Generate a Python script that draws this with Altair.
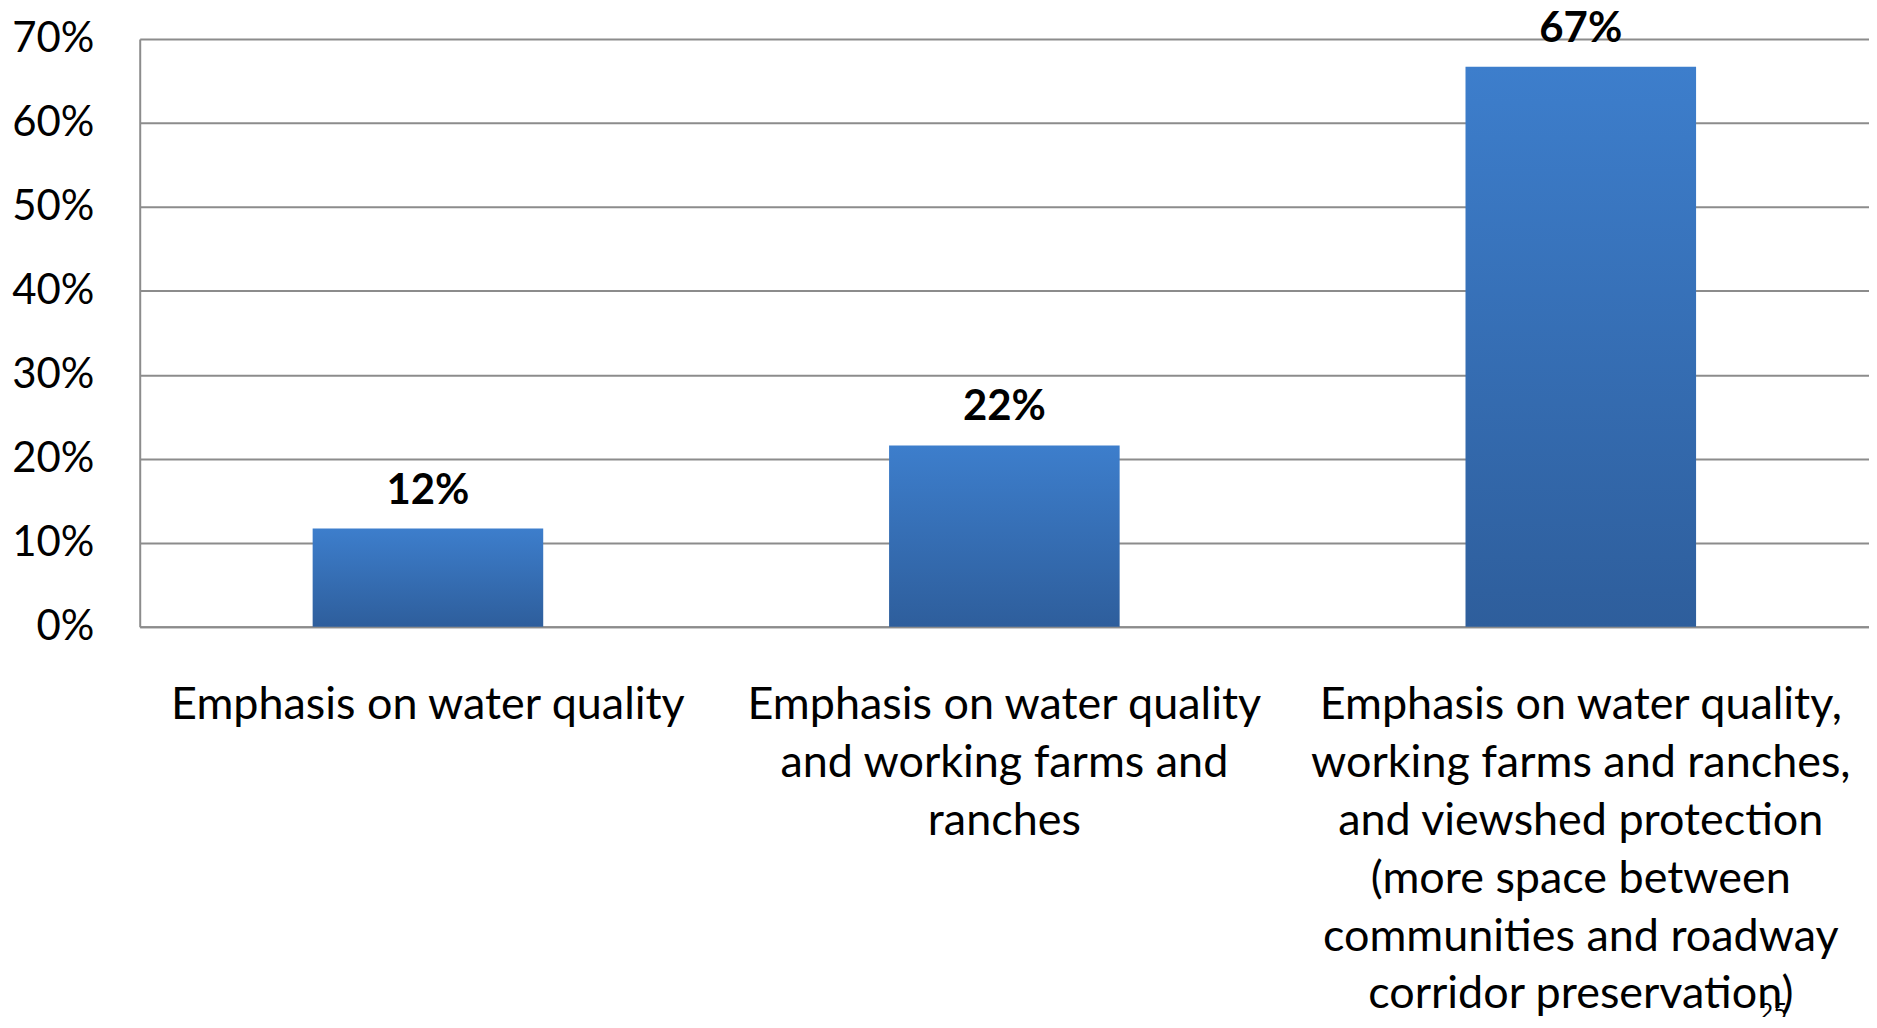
import altair as alt
import pandas as pd

categories = [
    "Emphasis on water quality",
    "Emphasis on water quality\nand working farms and\nranches",
    "Emphasis on water quality,\nworking farms and ranches,\nand viewshed protection\n(more space between\ncommunities and roadway\ncorridor preservation)",
]
shares = [0.117, 0.216, 0.667]
y_ticks = [0, 0.1, 0.2, 0.3, 0.4, 0.5, 0.6, 0.7]
page_number = ["25"]

df = pd.DataFrame({"category": categories, "share": shares})

FONT = "Lato"

x_enc = alt.X(
    "category:N",
    sort=None,
    title=None,
    scale=alt.Scale(paddingInner=0.6, paddingOuter=0.3),
    axis=alt.Axis(
        labelAngle=0,
        labelExpr="split(datum.label, '\\n')",
        labelFont=FONT,
        labelFontSize=45,
        labelLineHeight=58,
        labelColor="black",
        labelPadding=56,
        labelLimit=900,
        ticks=False,
        domainColor="#8c8c8c",
        domainWidth=2,
    ),
)
y_enc = alt.Y(
    "share:Q",
    title=None,
    scale=alt.Scale(domain=[0, 0.7], nice=False),
    axis=alt.Axis(
        values=y_ticks,
        format=".0%",
        labelFont=FONT,
        labelFontSize=42,
        labelColor="black",
        labelPadding=46,
        ticks=False,
        domainColor="#8c8c8c",
        domainWidth=2,
        gridColor="#8c8c8c",
        gridWidth=2,
    ),
)

bars = alt.Chart(df).mark_bar(
    color=alt.Gradient(
        gradient="linear",
        stops=[
            alt.GradientStop(color="#3d7ecc", offset=0),
            alt.GradientStop(color="#2e5e9c", offset=1),
        ],
        x1=0, x2=0, y1=0, y2=1,
    )
).encode(x=x_enc, y=y_enc)

labels = alt.Chart(df).mark_text(
    font=FONT, fontSize=42, fontWeight="bold", color="black", dy=-25, baseline="alphabetic"
).encode(
    x=alt.X("category:N", sort=None),
    y="share:Q",
    text=alt.Text("share:Q", format=".0%"),
)

page = alt.Chart(pd.DataFrame({"p": page_number})).mark_text(
    font=FONT, fontSize=24, color="black", baseline="middle"
).encode(x=alt.value(1637), y=alt.value(976), text="p:N")

chart = alt.layer(bars, labels, page).properties(
    width=1733,
    height=589,
    autosize=alt.AutoSizeParams(type="none"),
    padding={"left": 132, "top": 30, "right": 0, "bottom": 390},
).configure_view(stroke=None)

chart.save("out.html", embed_options={"renderer": "svg", "actions": False})
